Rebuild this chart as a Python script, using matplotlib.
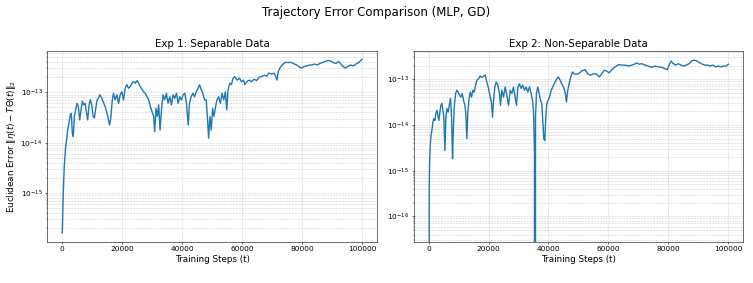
import numpy as np
import matplotlib
matplotlib.use("Agg")
import matplotlib.pyplot as plt


# Exp 1 (separable): training step and log10 of the error
sep_steps = [0, 335, 670, 1120, 1450, 1790, 2230, 2680, 3020, 3350,
             3690, 4020, 4470, 4910, 5360, 5810, 6260, 6700, 7150, 7600,
             8040, 8490, 8940, 9380, 9830, 10280, 10720, 11170, 11620, 12060,
             12510, 12960, 13400, 13850, 14300, 14740, 15190, 15750, 16200, 16640,
             17090, 17650, 18210, 18770, 19320, 19880, 20440, 21000, 21560, 22120,
             22670, 23230, 23790, 24350, 24910, 25470, 26030, 26580, 27140, 27700,
             28260, 28820, 29380, 29930, 30490, 30830, 31280, 31720, 32170, 32620,
             33060, 33620, 34180, 34740, 35300, 35860, 36410, 36970, 37530, 38090,
             38650, 39210, 39770, 40320, 40880, 41440, 42000, 42450, 43010, 43560,
             44120, 44680, 45350, 45790, 46350, 46910, 47470, 48030, 48480, 48820,
             49260, 49710, 50150, 50600, 51160, 51620, 52180, 52740, 53300, 53860,
             54420, 54870, 55310, 55870, 56430, 56980, 57540, 58320, 59110, 59780,
             60450, 60890, 61560, 62350, 63130, 64020, 64800, 65700, 66480, 67370,
             68150, 68940, 69830, 70610, 71280, 71620, 72060, 72620, 73400, 74300,
             75410, 76530, 77420, 78310, 79090, 79880, 80660, 81560, 82450, 83230,
             84130, 85020, 85910, 86810, 87700, 88590, 89490, 90380, 91280, 92170,
             92840, 93510, 94400, 95300, 96190, 97080, 97980, 98870, 99760, 100000]
sep_log_err = [-15.79, -15.00, -14.47, -14.08, -13.94, -13.75, -13.61, -13.45, -13.42, -13.81,
               -13.88, -13.48, -13.35, -13.22, -13.28, -13.55, -13.35, -13.18, -13.25, -13.22,
               -13.38, -13.55, -13.25, -13.15, -13.25, -13.48, -13.51, -13.32, -13.15, -13.12,
               -13.05, -13.09, -13.15, -13.22, -13.28, -13.38, -13.48, -13.65, -13.51, -13.18,
               -13.02, -13.15, -13.05, -13.22, -13.05, -12.99, -13.15, -12.92, -12.85, -12.92,
               -12.89, -12.82, -12.79, -12.82, -12.77, -12.82, -12.89, -12.94, -12.99, -13.02,
               -13.09, -13.15, -13.28, -13.38, -13.48, -13.78, -13.32, -13.48, -13.25, -13.75,
               -13.38, -13.05, -13.15, -13.02, -13.22, -13.09, -13.25, -13.05, -13.12, -13.02,
               -13.22, -13.09, -13.15, -13.05, -13.02, -13.22, -13.65, -13.22, -13.09, -13.02,
               -13.09, -12.99, -12.92, -12.85, -12.95, -13.02, -13.15, -13.15, -13.55, -13.91,
               -13.48, -13.75, -13.32, -13.48, -13.28, -13.15, -13.09, -13.22, -13.02, -13.15,
               -12.99, -13.35, -12.95, -12.82, -12.85, -12.72, -12.69, -12.76, -12.72, -12.79,
               -12.76, -12.85, -12.79, -12.76, -12.79, -12.74, -12.77, -12.70, -12.69, -12.66,
               -12.68, -12.62, -12.64, -12.62, -12.69, -12.76, -12.59, -12.52, -12.46, -12.41,
               -12.41, -12.41, -12.44, -12.46, -12.50, -12.52, -12.49, -12.48, -12.46, -12.46,
               -12.44, -12.46, -12.43, -12.41, -12.39, -12.37, -12.38, -12.41, -12.43, -12.39,
               -12.43, -12.48, -12.52, -12.49, -12.46, -12.48, -12.44, -12.41, -12.36, -12.35]

# Exp 2 (non-separable); -inf marks an error of exactly zero
nonsep_steps = [0, 200, 330, 550, 780, 1110, 1440, 1780, 2110, 2440,
                2780, 3110, 3440, 3780, 4110, 4440, 4780, 5110, 5440, 5780,
                6110, 6550, 7000, 7330, 7670, 8000, 8220, 8550, 9000, 9440,
                9890, 10330, 10780, 11220, 11670, 12110, 12440, 12780, 13110, 13440,
                13890, 14330, 14780, 15220, 15670, 16110, 16670, 17220, 17780, 18330,
                18890, 19440, 20000, 20560, 21000, 21330, 21670, 22110, 22550, 23110,
                23670, 24000, 24440, 25000, 25550, 26110, 26670, 27220, 27780, 28330,
                28890, 29330, 29780, 30330, 30890, 31440, 32000, 32550, 33110, 33670,
                34220, 34670, 35000, 35330, 35440, 35670, 36000, 36440, 36890, 37330,
                37780, 38110, 38440, 38780, 39110, 39440, 39890, 40330, 40780, 41220,
                41670, 42220, 42780, 43330, 43890, 44440, 45000, 45550, 46000, 46440,
                46890, 47440, 48000, 48550, 48890, 50000, 51110, 52220, 53110, 53890,
                55000, 56110, 57000, 57780, 58670, 59440, 60220, 61110, 62220, 63330,
                64440, 65560, 66670, 67780, 68670, 69330, 70220, 71110, 72220, 73330,
                74440, 75560, 76670, 77780, 78890, 79670, 80220, 80890, 81670, 82440,
                83330, 84220, 85110, 86000, 86890, 87780, 88670, 89560, 90440, 91330,
                92220, 93110, 94000, 94890, 95780, 96670, 97560, 98440, 99220, 100000]
nonsep_log_err = [-np.inf, -15.43, -14.85, -14.45, -14.26, -14.12, -13.94, -13.86, -13.90, -13.75,
                  -13.68, -13.79, -13.90, -13.72, -13.57, -13.53, -13.68, -13.83, -14.56, -13.83,
                  -13.64, -13.72, -13.53, -13.42, -13.83, -14.74, -14.19, -13.61, -13.31, -13.24,
                  -13.28, -13.35, -13.39, -13.31, -13.46, -13.57, -13.75, -14.30, -13.72, -13.46,
                  -13.28, -13.39, -13.24, -13.28, -13.13, -13.02, -12.99, -12.93, -12.96, -12.93,
                  -12.91, -13.06, -13.20, -13.39, -13.53, -13.83, -13.46, -13.17, -13.06, -13.13,
                  -13.31, -13.57, -13.24, -13.39, -13.17, -13.35, -13.57, -13.24, -13.31, -13.17,
                  -13.39, -13.57, -13.17, -13.10, -13.20, -13.13, -13.24, -13.17, -13.28, -13.17,
                  -13.31, -13.46, -13.68, -14.56, -np.inf, -13.83, -13.31, -13.17, -13.31, -13.46,
                  -13.53, -13.90, -14.30, -14.34, -13.83, -13.53, -13.46, -13.39, -13.28, -13.20,
                  -13.13, -13.06, -12.99, -12.95, -13.02, -13.10, -13.17, -13.28, -13.50, -13.24,
                  -13.10, -12.95, -12.84, -12.88, -12.89, -12.88, -12.82, -12.79, -12.88, -12.91,
                  -12.88, -12.89, -12.95, -12.88, -12.80, -12.82, -12.86, -12.79, -12.73, -12.68,
                  -12.69, -12.69, -12.71, -12.69, -12.67, -12.64, -12.67, -12.66, -12.69, -12.71,
                  -12.74, -12.71, -12.73, -12.74, -12.77, -12.79, -12.69, -12.60, -12.66, -12.69,
                  -12.66, -12.69, -12.71, -12.69, -12.66, -12.60, -12.58, -12.60, -12.64, -12.67,
                  -12.69, -12.69, -12.71, -12.69, -12.73, -12.71, -12.73, -12.71, -12.71, -12.67]

titles = ["Exp 1: Separable Data", "Exp 2: Non-Separable Data"]
ylims = [(10 ** -15.96, 10 ** -12.19), (10 ** -16.55, 10 ** -12.39)]
decade_ticks = [[1e-15, 1e-14, 1e-13], [1e-16, 1e-15, 1e-14, 1e-13]]
step_ticks = [0, 20000, 40000, 60000, 80000, 100000]

fig, axes = plt.subplots(1, 2, figsize=(15.06, 5.66), dpi=50)
fig.subplots_adjust(left=0.0628, right=0.9871, bottom=0.1466, top=0.8184, wspace=0.111)

series = [(sep_steps, sep_log_err), (nonsep_steps, nonsep_log_err)]
for ax, (steps, log_err), title, ylim, yt in zip(axes, series, titles, ylims, decade_ticks):
    err = 10.0 ** np.array(log_err)
    ax.plot(steps, err, color="C0", linewidth=2.0)
    ax.set_yscale("log")
    ax.set_yticks(yt)
    ax.set_xticks(step_ticks)
    ax.set_xlim(-5000, 105000)
    ax.set_ylim(*ylim)
    ax.set_title(title, fontsize=14.8)
    ax.set_xlabel("Training Steps (t)", fontsize=12.7)
    ax.tick_params(labelsize=10.6)
    ax.grid(True, which="both", linestyle="--", alpha=0.6)

axes[0].set_ylabel(r"Euclidean Error $\|\eta(t) - T\Theta(t)\|_2$", fontsize=12.7)
fig.suptitle("Trajectory Error Comparison (MLP, GD)", fontsize=17, y=0.98)

fig.savefig("out.png", dpi=50)
